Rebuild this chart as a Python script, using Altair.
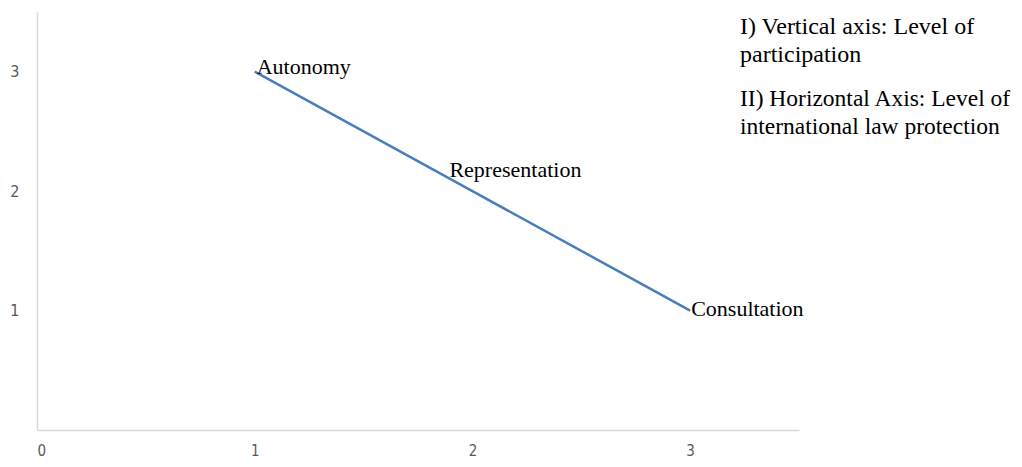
import altair as alt
import pandas as pd

x_vals = [1, 2, 3]
y_vals = [3, 2, 1]
labels = ["Autonomy", "Representation", "Consultation"]
x_ticks = [0, 1, 2, 3]
y_ticks = [1, 2, 3]
note_1 = ["I) Vertical axis: Level of", "participation"]
note_2 = ["II) Horizontal Axis: Level of", "international law protection"]

df = pd.DataFrame({"x": x_vals, "y": y_vals, "label": labels})

AXIS_FONT = "Liberation Sans Narrow, DejaVu Sans Condensed, sans-serif"
SERIF = "Liberation Serif, Times New Roman, serif"

xs = alt.Scale(domain=[0, 3.5], nice=False, zero=False)
ys = alt.Scale(domain=[0, 3.5], nice=False, zero=False)

x_axis = alt.Axis(values=x_ticks, title=None, grid=False, ticks=False,
                  domainColor="#d9d9d9", domainWidth=1.5, labelColor="#595959",
                  labelFont=AXIS_FONT, labelFontSize=15, labelPadding=13,
                  format="d")
y_axis = alt.Axis(values=y_ticks, title=None, grid=False, ticks=False,
                  domainColor="#d9d9d9", domainWidth=1.5, labelColor="#595959",
                  labelFont=AXIS_FONT, labelFontSize=16, labelPadding=18,
                  format="d")

base = alt.Chart(df)
line = base.mark_line(color="#4a7ebb", strokeWidth=2.5).encode(
    x=alt.X("x:Q", scale=xs, axis=x_axis),
    y=alt.Y("y:Q", scale=ys, axis=y_axis),
)

offsets = {"Autonomy": (2, -5), "Representation": (-23, -21), "Consultation": (1, -2)}
texts = []
for lab in labels:
    dx, dy = offsets[lab]
    texts.append(
        base.transform_filter(alt.datum.label == lab)
        .mark_text(align="left", baseline="middle", dx=dx, dy=dy,
                   font=SERIF, fontSize=22, color="#000000")
        .encode(x=alt.X("x:Q", scale=xs), y=alt.Y("y:Q", scale=ys), text="label:N")
    )

chart = alt.layer(line, *texts).properties(
    width=762,
    height=418,
    autosize=alt.AutoSizeParams(type="none"),
    padding={"left": 29, "top": 4, "right": 215, "bottom": 29},
    title=alt.TitleParams(
        text=note_1,
        subtitle=note_2,
        anchor="start",
        orient="top",
        frame="group",
        dx=703,
        dy=126,
        offset=0,
        limit=400,
        font=SERIF,
        fontSize=24,
        fontWeight="normal",
        color="#000000",
        lineHeight=28,
        subtitleFont=SERIF,
        subtitleFontSize=23.5,
        subtitleColor="#000000",
        subtitleLineHeight=28,
        subtitlePadding=20,
    ),
).configure(background="white").configure_view(strokeWidth=0, stroke=None)

chart.save("out.html", embed_options={"renderer": "svg", "actions": False})
